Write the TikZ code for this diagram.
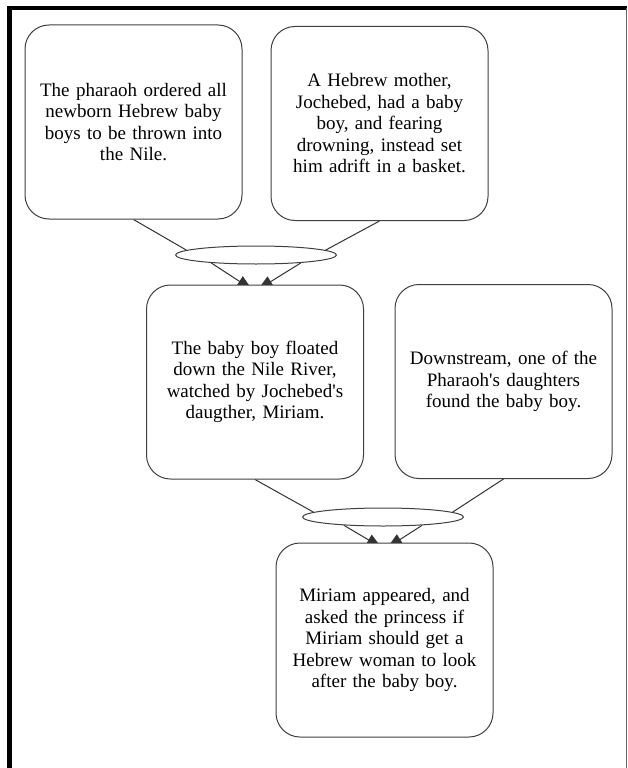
\documentclass[tikz,border=0pt]{standalone}
\usepackage{fontspec}
\setmainfont{Liberation Serif}
\usetikzlibrary{arrows.meta,shapes.geometric,backgrounds}
\tikzset{
  event/.style={draw=black!75, line width=1pt, fill=white, rounded corners=24pt,
    minimum width=217pt, minimum height=194pt, text width=200pt, align=center,
    font=\fontsize{19}{21.5}\selectfont},
  meet/.style={draw=black!75, line width=1pt, fill=white, ellipse,
    minimum width=161pt, minimum height=18pt, inner sep=0pt},
  link/.style={black!80, line width=1pt},
  tip/.style={link, -{Triangle[length=15pt,width=12pt]}}
}
\begin{document}
\begin{tikzpicture}[x=1pt,y=-1pt]
\useasboundingbox (0,0) rectangle (627,768);
% page frame
\draw[line width=4.5pt] (9.5,768) -- (9.5,8) -- (627,8);
\draw[black!60, line width=1pt] (626.5,8) -- (626.5,768);
% events
\node[event] (pharaoh) at (133.5,122) {The pharaoh ordered all\\ newborn Hebrew baby\\ boys to be thrown into\\ the Nile.};
\node[event] (mother) at (379.5,123.5) {A Hebrew mother,\\ Jochebed, had a baby\\ boy, and fearing\\ drowning, instead set\\ him adrift in a basket.};
\node[event] (float) at (255,382) {The baby boy floated\\ down the Nile River,\\ watched by Jochebed\textquotesingle s\\ daugther, Miriam.};
\node[event] (found) at (503.5,381.5) {Downstream, one of the\\ Pharaoh\textquotesingle s daughters\\ found the baby boy.};
\node[event] (ask) at (384.5,640) {Miriam appeared, and\\ asked the princess if\\ Miriam should get a\\ Hebrew woman to look\\ after the baby boy.};
% joins
\node[meet] (meet1) at (256,255) {};
\node[meet] (meet2) at (383,517) {};
\begin{scope}[on background layer]
\draw[link] (pharaoh.south) -- (meet1.176);
\draw[link] (mother.south) -- (meet1.4);
\draw[tip] (meet1.190) -- ([xshift=-3pt,yshift=-5pt]float.north);
\draw[tip] (meet1.350) -- ([xshift=3pt,yshift=-5pt]float.north);
\draw[link] (float.south) -- (meet2.176);
\draw[link] (found.south) -- (meet2.4);
\draw[tip] (meet2.192) -- ([xshift=-3pt,yshift=-5pt]ask.north);
\draw[tip] (meet2.348) -- ([xshift=3pt,yshift=-5pt]ask.north);
\end{scope}
\end{tikzpicture}
\end{document}
